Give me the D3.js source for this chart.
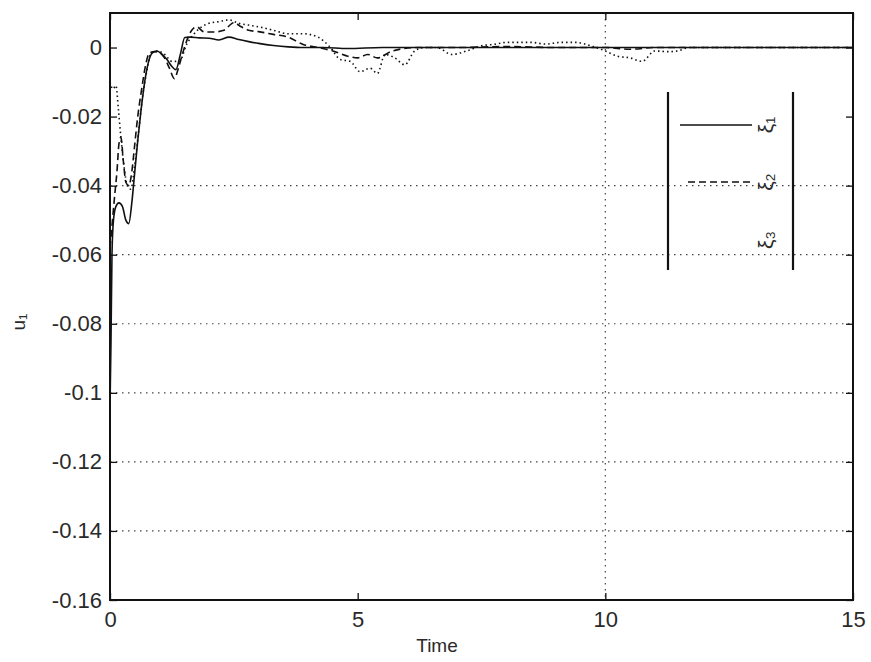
<!DOCTYPE html>
<html>
<head>
<meta charset="utf-8">
<script src="https://d3js.org/d3.v7.min.js"></script>
<style>
  body { margin: 0; background: #fff; }
  text { font-family: "Liberation Sans", Arial, sans-serif; fill: #2a2a2a; }
</style>
</head>
<body>
<svg id="chart" width="871" height="662"></svg>
<script>
(function(){
    // ---- data ----
    var xTicks = [0, 5, 10, 15];
    var yTicks = [0, -0.02, -0.04, -0.06, -0.08, -0.1, -0.12, -0.14, -0.16];
    var yTickLabels = ['0', '-0.02', '-0.04', '-0.06', '-0.08', '-0.1', '-0.12', '-0.14', '-0.16'];
    var gridX = [10];
    var gridY = [-0.04, -0.06, -0.08, -0.1, -0.12, -0.14];
    var legendLabels = ['\u03be\u2081', '\u03be\u2082', '\u03be\u2083'];

    // xi1 (solid)
    var t1 = [0, 0.02, 0.04, 0.07, 0.12, 0.18, 0.25, 0.32, 0.38, 0.44, 0.5, 0.56, 0.62, 0.7, 0.78, 0.86,
              0.95, 1.05, 1.15, 1.25, 1.33, 1.42, 1.51, 1.62, 1.8, 2.0, 2.2, 2.4, 2.6, 2.8, 3.0,
              3.3, 3.6, 3.9, 4.3, 4.8, 5.5, 6.5, 8, 10, 12, 15];
    var v1 = [-0.104, -0.085, -0.06, -0.05, -0.046, -0.045, -0.046, -0.05, -0.051, -0.045, -0.036, -0.027,
              -0.019, -0.01, -0.004, -0.0015, -0.001, -0.002, -0.0035, -0.0055, -0.0064, -0.002,
              0.0029, 0.003, 0.0028, 0.0027, 0.0022, 0.003, 0.0023, 0.0017, 0.0012, 0.0006, 0.0002,
              0, 0, -0.0003, 0, 0, 0, 0, 0, 0];

    // xi2 (dashed)
    var t2 = [0, 0.05, 0.1, 0.14, 0.18, 0.22, 0.27, 0.32, 0.38, 0.44, 0.5, 0.56, 0.64, 0.72, 0.8,
              0.9, 1.0, 1.1, 1.2, 1.3, 1.38, 1.46, 1.55, 1.65, 1.75, 1.9, 2.1, 2.3, 2.5, 2.65, 2.8,
              3.0, 3.3, 3.6, 3.9, 4.2, 4.5, 4.8, 5.0, 5.2, 5.4, 5.7, 6.2, 7, 8, 9, 10, 10.5, 11, 15];
    var v2 = [-0.058, -0.05, -0.042, -0.036, -0.028, -0.026, -0.033, -0.039, -0.04, -0.036, -0.028,
              -0.02, -0.012, -0.005, -0.0015, -0.0012, -0.0015, -0.003, -0.006, -0.009, -0.006,
              -0.002, 0.002, 0.005, 0.006, 0.0045, 0.0045, 0.005, 0.0072, 0.006, 0.005, 0.0046,
              0.0038, 0.003, 0.0009, 0, -0.001, -0.0025, -0.003, -0.002, -0.003, -0.001, 0, 0,
              0.0003, 0, 0, -0.0005, 0, 0];

    // xi3 (dotted)
    var t3 = [0, 0.06, 0.12, 0.17, 0.22, 0.28, 0.35, 0.42, 0.5, 0.58, 0.66, 0.74, 0.82, 0.95, 1.1,
              1.25, 1.4, 1.55, 1.7, 1.85, 2.0, 2.2, 2.4, 2.6, 2.8, 3.0, 3.3, 3.6, 3.9, 4.2, 4.45,
              4.65, 4.85, 5.05, 5.25, 5.4, 5.55, 5.75, 5.95, 6.15, 6.35, 6.6, 6.9, 7.2, 7.5, 7.8,
              8.0, 8.2, 8.5, 8.8, 9.1, 9.4, 9.7, 10.0, 10.24, 10.5, 10.74, 11.0, 11.27, 11.45,
              11.7, 12, 13, 15];
    var v3 = [-0.01, -0.012, -0.011, -0.018, -0.026, -0.034, -0.04, -0.041, -0.034, -0.024, -0.014,
              -0.007, -0.002, -0.001, -0.002, -0.004, -0.004, 0.001, 0.004, 0.006, 0.007, 0.0075,
              0.008, 0.007, 0.0065, 0.006, 0.005, 0.004, 0.004, 0.003, 0, -0.0035, -0.004, -0.007,
              -0.006, -0.0075, -0.002, -0.003, -0.005, -0.001, 0, 0, -0.002, -0.001, 0.0005, 0.001,
              0.0015, 0.0015, 0.0015, 0.001, 0.0015, 0.0015, 0.0005, -0.001, -0.0025, -0.003, -0.004,
              -0.001, -0.0012, -0.001, 0, 0, 0, 0];

    var series = [
        {t: t1, v: v1, dash: null},
        {t: t2, v: v2, dash: '7,4'},
        {t: t3, v: v3, dash: '1.5,3'}
    ];

    // ---- layout ----
    var svg = d3.select('#chart');
    var left = 110, right = 853, top = 13, bottom = 600;

    var x = d3.scaleLinear().domain([0, 15]).range([left, right]);
    var y = d3.scaleLinear().domain([-0.16, 0.01]).range([bottom, top]);

    // grid
    svg.append('g').selectAll('line.gy')
        .data(gridY).enter().append('line')
        .attr('x1', left).attr('x2', right)
        .attr('y1', function(d){ return y(d) }).attr('y2', function(d){ return y(d) })
        .style('stroke', '#444').style('stroke-width', 1.2)
        .style('stroke-dasharray', '1.5,4.5');
    svg.append('g').selectAll('line.gx')
        .data(gridX).enter().append('line')
        .attr('y1', top).attr('y2', bottom)
        .attr('x1', function(d){ return x(d) }).attr('x2', function(d){ return x(d) })
        .style('stroke', '#444').style('stroke-width', 1.2)
        .style('stroke-dasharray', '1.5,4.5');

    // curves
    var line = d3.line()
        .curve(d3.curveMonotoneX)
        .x(function(d){ return x(d[0]) })
        .y(function(d){ return y(d[1]) });

    series.forEach(function(s){
        var pts = s.t.map(function(t, i){ return [t, s.v[i]] });
        svg.append('path')
            .datum(pts)
            .attr('d', line)
            .style('fill', 'none')
            .style('stroke', '#111')
            .style('stroke-width', 1.6)
            .style('stroke-dasharray', s.dash);
    });

    // axes (MATLAB style: inward ticks on all sides)
    var axB = d3.axisBottom(x).tickValues(xTicks).tickSize(-7).tickPadding(11);
    var axT = d3.axisTop(x).tickValues(xTicks).tickSize(-7).tickFormat('');
    var axL = d3.axisLeft(y).tickValues(yTicks).tickSize(-7).tickPadding(8)
        .tickFormat(function(d, i){ return yTickLabels[i] });
    var axR = d3.axisRight(y).tickValues(yTicks).tickSize(-7).tickFormat('');

    function styleAxis(g){
        g.select('.domain').remove();
        g.selectAll('line').style('stroke', '#111').style('stroke-width', 1.3);
        g.selectAll('text').style('font-size', '22px').style('fill', '#2a2a2a');
    }
    svg.append('g').attr('transform', 'translate(0,' + bottom + ')').call(axB).call(styleAxis);
    svg.append('g').attr('transform', 'translate(0,' + top + ')').call(axT).call(styleAxis);
    svg.append('g').attr('transform', 'translate(' + left + ',0)').call(axL).call(styleAxis);
    svg.append('g').attr('transform', 'translate(' + right + ',0)').call(axR).call(styleAxis);

    svg.append('rect')
        .attr('x', left).attr('y', top)
        .attr('width', right - left).attr('height', bottom - top)
        .style('fill', 'none').style('stroke', '#111').style('stroke-width', 2);

    // axis labels
    svg.append('text')
        .attr('x', 437).attr('y', 652)
        .attr('text-anchor', 'middle')
        .style('font-size', '19px')
        .text('Time');
    svg.append('text')
        .attr('transform', 'translate(25,322) rotate(-90)')
        .attr('text-anchor', 'middle')
        .style('font-size', '19px')
        .text('u\u2081');

    // legend (drawn as in the picture: two vertical bars)
    var lg = svg.append('g');
    [668, 793].forEach(function(lx){
        lg.append('line')
            .attr('x1', lx).attr('x2', lx).attr('y1', 92).attr('y2', 270)
            .style('stroke', '#111').style('stroke-width', 2.2);
    });
    var rows = [125, 182, 240];
    var sx = [[680, 752], [688, 752], [688, 752]];
    series.forEach(function(s, i){
        if (i < 2) {
            lg.append('line')
                .attr('x1', sx[i][0]).attr('x2', sx[i][1])
                .attr('y1', rows[i]).attr('y2', rows[i])
                .style('stroke', '#111').style('stroke-width', 1.6)
                .style('stroke-dasharray', s.dash);
        }
        lg.append('text')
            .attr('transform', 'translate(773,' + rows[i] + ') rotate(-90)')
            .attr('text-anchor', 'middle')
            .style('font-size', '21px')
            .text(legendLabels[i]);
    });
})();
</script>
</body>
</html>
